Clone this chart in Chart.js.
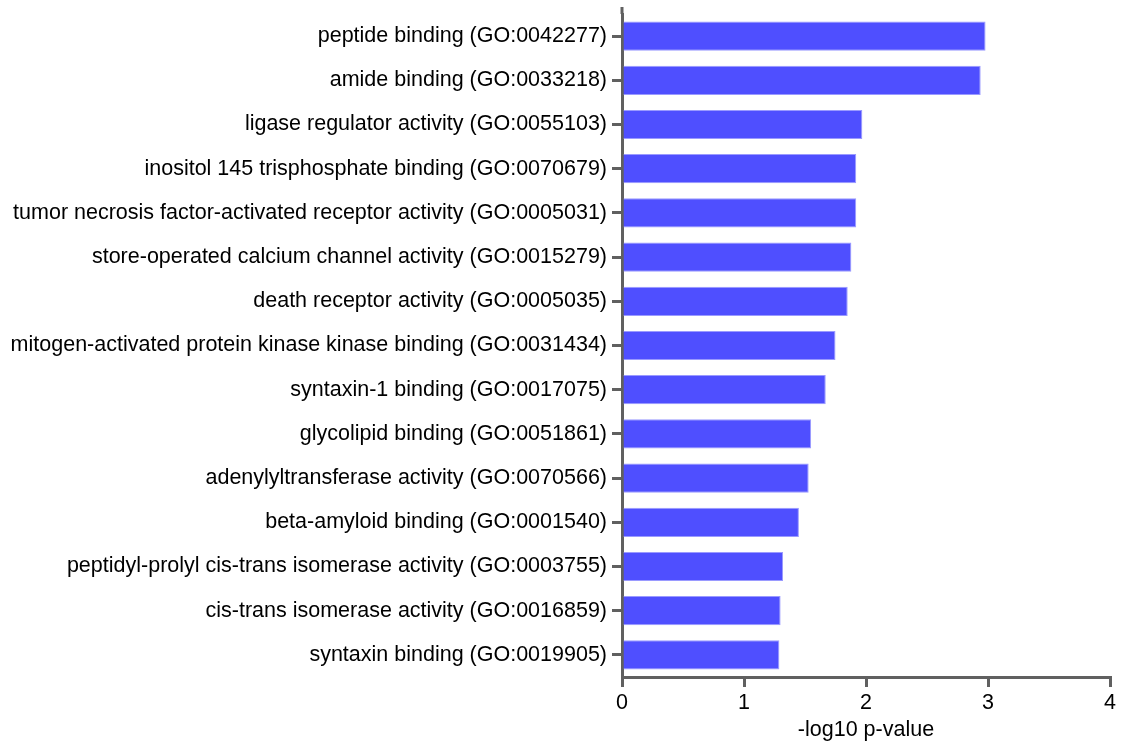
<!DOCTYPE html>
<html>
<head>
<meta charset="utf-8">
<script src="https://cdn.jsdelivr.net/npm/chart.js@4/dist/chart.umd.min.js"></script>
<style>
  html, body { margin: 0; padding: 0; background: #fff; }
  #wrap { width: 1121px; height: 747px; position: relative; }
</style>
</head>
<body>
<div id="wrap"><canvas id="chart"></canvas></div>
<script>
// GO terms, top to bottom
const terms = [
  'peptide binding (GO:0042277)',
  'amide binding (GO:0033218)',
  'ligase regulator activity (GO:0055103)',
  'inositol 145 trisphosphate binding (GO:0070679)',
  'tumor necrosis factor-activated receptor activity (GO:0005031)',
  'store-operated calcium channel activity (GO:0015279)',
  'death receptor activity (GO:0005035)',
  'mitogen-activated protein kinase kinase binding (GO:0031434)',
  'syntaxin-1 binding (GO:0017075)',
  'glycolipid binding (GO:0051861)',
  'adenylyltransferase activity (GO:0070566)',
  'beta-amyloid binding (GO:0001540)',
  'peptidyl-prolyl cis-trans isomerase activity (GO:0003755)',
  'cis-trans isomerase activity (GO:0016859)',
  'syntaxin binding (GO:0019905)'
];

// -log10 p-value
const scores = [2.98, 2.94, 1.97, 1.92, 1.92, 1.88, 1.85, 1.75, 1.67, 1.55, 1.53, 1.45, 1.32, 1.30, 1.29];

const xTicks = [0, 1, 2, 3, 4];

const axisColor = '#606060';
const font = { family: '"Liberation Sans", Arial, sans-serif', size: 21.5 };

// extend the y axis line a little above the plot area
const axisTop = {
  id: 'axisTop',
  afterDraw(chart) {
    const c = chart.ctx;
    const x = chart.scales.x.left;
    c.save();
    c.strokeStyle = axisColor;
    c.lineWidth = 3;
    c.beginPath();
    c.moveTo(x, chart.chartArea.top);
    c.lineTo(x, 7);
    c.stroke();
    c.restore();
  }
};

new Chart(document.getElementById('chart'), {
  type: 'bar',
  data: {
    labels: terms,
    datasets: [{
      data: scores,
      backgroundColor: '#4f4fff',
      borderColor: '#9a9aff',
      borderWidth: 1,
      barPercentage: 0.66,
      categoryPercentage: 1
    }]
  },
  options: {
    indexAxis: 'y',
    responsive: true,
    maintainAspectRatio: false,
    animation: false,
    layout: { padding: { top: 14, right: 11, left: 0, bottom: 0 } },
    scales: {
      x: {
        min: 0,
        max: 4,
        afterBuildTicks: scale => { scale.ticks = xTicks.map(v => ({ value: v })); },
        afterFit: scale => { scale.height = 70; },
        grid: {
          drawOnChartArea: false,
          drawTicks: true,
          tickLength: 10,
          color: axisColor,
          lineWidth: 3
        },
        border: { color: axisColor, width: 3 },
        ticks: { color: '#000', font, padding: 3, maxRotation: 0 },
        title: {
          display: true,
          text: '-log10 p-value',
          color: '#000',
          font,
          padding: { top: 2, bottom: 4 }
        }
      },
      y: {
        afterFit: scale => {
          scale.width = 622;
          scale.paddingTop = 0;
          scale.paddingBottom = 0;
        },
        grid: {
          drawOnChartArea: false,
          drawTicks: true,
          tickLength: 10,
          offset: false,
          color: axisColor,
          lineWidth: 3
        },
        border: { color: axisColor, width: 3 },
        ticks: { color: '#000', font, padding: 5, autoSkip: false }
      }
    },
    plugins: {
      legend: { display: false },
      tooltip: { enabled: false }
    }
  },
  plugins: [axisTop]
});
</script>
</body>
</html>
